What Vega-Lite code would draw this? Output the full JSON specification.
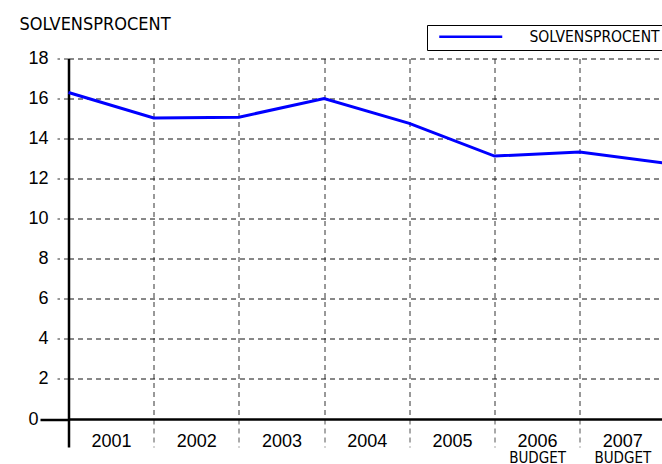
{
  "$schema": "https://vega.github.io/schema/vega-lite/v6.json",
  "autosize": "none",
  "width": 593.5,
  "height": 360.5,
  "padding": {"left": 68.5, "top": 58.5, "right": 0, "bottom": 45},
  "background": "#ffffff",
  "config": {"view": {"stroke": null}},
  "title": {
    "text": "SOLVENSPROCENT",
    "anchor": "start",
    "frame": "group",
    "dx": -49,
    "offset": -9,
    "font": "DejaVu Sans Condensed, DejaVu Sans, sans-serif",
    "fontSize": 18,
    "fontWeight": "normal",
    "color": "#000000"
  },
  "data": {
    "values": [
      {"pos": 0, "value": 16.3, "series": "SOLVENSPROCENT"},
      {"pos": 1, "value": 15.03, "series": "SOLVENSPROCENT"},
      {"pos": 2, "value": 15.07, "series": "SOLVENSPROCENT"},
      {"pos": 3, "value": 16.0, "series": "SOLVENSPROCENT"},
      {"pos": 4, "value": 14.76, "series": "SOLVENSPROCENT"},
      {"pos": 5, "value": 13.13, "series": "SOLVENSPROCENT"},
      {"pos": 6, "value": 13.33, "series": "SOLVENSPROCENT"},
      {"pos": 7, "value": 12.78, "series": "SOLVENSPROCENT"}
    ]
  },
  "layer": [
    {
      "mark": {"type": "line", "strokeWidth": 3, "clip": false},
      "encoding": {
        "x": {
          "field": "pos",
          "type": "quantitative",
          "scale": {"domain": [0, 6.966], "nice": false, "zero": false},
          "axis": {
            "orient": "bottom",
            "title": null,
            "values": [0, 1, 2, 3, 4, 5, 6, 7],
            "labelExpr": "['2001','2002','2003','2004','2005','2006','2007',''][datum.value]",
            "labelOffset": 42.6,
            "labelFlush": false,
            "labelOverlap": false,
            "labelFont": "Liberation Sans, Arial, sans-serif",
            "labelFontSize": 18,
            "labelColor": "#000000",
            "labelPadding": -15,
            "labelBound": false,
            "domain": true,
            "domainColor": "#000000",
            "domainWidth": 2.5,
            "grid": true,
            "gridColor": "#333333",
            "gridDash": [5, 4],
            "gridWidth": 1,
            "gridOpacity": 1,
            "ticks": true,
            "tickSize": 28,
            "tickColor": {"condition": {"test": "datum.value === 0", "value": "#000000"}, "value": "#555555"},
            "tickWidth": {"condition": {"test": "datum.value === 0", "value": 2.5}, "value": 1},
            "tickDash": {"condition": {"test": "datum.value === 0", "value": []}, "value": [5, 4]}
          }
        },
        "y": {
          "field": "value",
          "type": "quantitative",
          "scale": {"domain": [0, 18], "nice": false},
          "axis": {
            "title": null,
            "values": [0, 2, 4, 6, 8, 10, 12, 14, 16, 18],
            "labelFont": "Liberation Sans, Arial, sans-serif",
            "labelFontSize": 18,
            "labelColor": "#000000",
            "labelAlign": "right",
            "labelBaseline": "middle",
            "domain": true,
            "domainColor": "#000000",
            "domainWidth": 2.5,
            "grid": true,
            "gridColor": "#111111",
            "gridDash": [5, 4],
            "gridWidth": 1,
            "gridOpacity": {"condition": {"test": "datum.value === 0", "value": 0}, "value": 1},
            "ticks": true,
            "tickSize": {"condition": {"test": "datum.value === 0", "value": 28.5}, "value": 11.5},
            "labelPadding": {"condition": {"test": "datum.value === 0", "value": 2}, "value": 9},
            "tickColor": {"condition": {"test": "datum.value === 0", "value": "#000000"}, "value": "#333333"},
            "tickWidth": {"condition": {"test": "datum.value === 0", "value": 2.5}, "value": 1},
            "tickDash": {"condition": {"test": "datum.value === 0", "value": []}, "value": [5, 4]}
          }
        },
        "color": {
          "field": "series",
          "type": "nominal",
          "scale": {"range": ["#0000ff"]},
          "legend": {
            "title": null,
            "orient": "none",
            "legendX": 358.5,
            "legendY": -33.5,
            "strokeColor": "#000000",
            "fillColor": "#ffffff",
            "padding": 4,
            "symbolType": "M-6.3,0L6.3,0",
            "symbolSize": 100,
            "symbolStrokeWidth": 2.5,
            "symbolFillColor": "transparent",
            "symbolOffset": 32,
            "labelOffset": 51,
            "labelFont": "DejaVu Sans Condensed, DejaVu Sans, sans-serif",
            "labelFontSize": 15.5,
            "labelColor": "#000000"
          }
        }
      }
    },
    {
      "mark": {"type": "point", "opacity": 0},
      "encoding": {
        "x": {
          "field": "pos",
          "type": "quantitative",
          "scale": {"domain": [0, 6.966], "nice": false, "zero": false},
          "axis": {
            "orient": "bottom",
            "title": null,
            "values": [5, 6],
            "labelExpr": "'BUDGET'",
            "labelOffset": 42.6,
            "labelFlush": false,
            "labelOverlap": false,
            "labelFont": "DejaVu Sans Condensed, DejaVu Sans, sans-serif",
            "labelFontSize": 15,
            "labelColor": "#000000",
            "labelPadding": 31,
            "domain": false,
            "grid": false,
            "ticks": false
          }
        }
      }
    }
  ],
  "resolve": {"axis": {"x": "independent"}}
}
